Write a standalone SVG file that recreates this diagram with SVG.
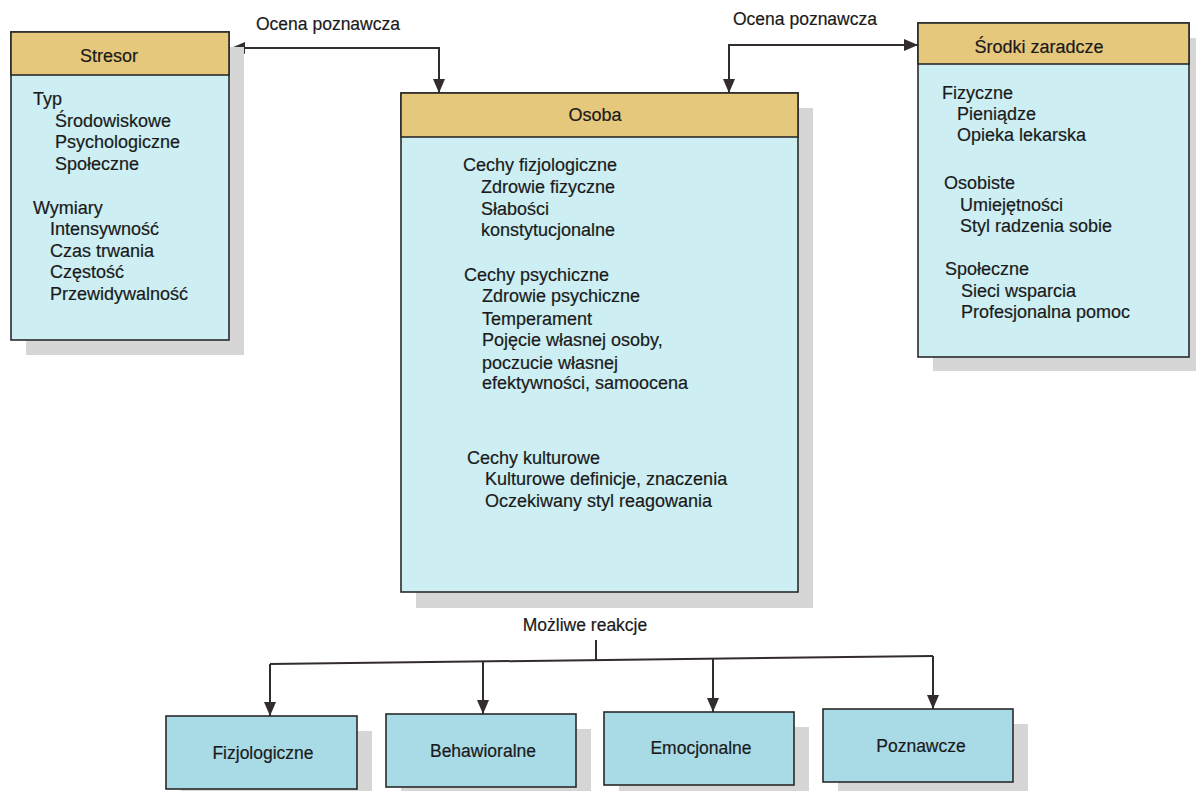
<svg xmlns="http://www.w3.org/2000/svg" width="1196" height="791" viewBox="0 0 1196 791">
<defs>
<style>
.bg{fill:#ffffff}
.shadow{fill:#d6d6d6}
.body{fill:#cdeef3;stroke:#2a2a2a;stroke-width:1.6}
.head{fill:#e6c87c;stroke:#2a2a2a;stroke-width:1.6}
.rbox{fill:#a9dbe7;stroke:#2a2a2a;stroke-width:1.6}
text{font-family:"Liberation Sans",Arial,Helvetica,sans-serif;fill:#1a1a1a;stroke:#1a1a1a;stroke-width:0.2}
.t{font-size:18px}
.h{font-size:18px;text-anchor:middle}
.lbl{font-size:17.5px;text-anchor:middle}
.r{font-size:17.5px;text-anchor:middle}
.conn{fill:none;stroke:#332c2c;stroke-width:2}
</style>
<marker id="arr" viewBox="0 0 14 12" refX="14" refY="6" markerWidth="14" markerHeight="12" markerUnits="userSpaceOnUse" orient="auto-start-reverse">
<path d="M0,0 L14,6 L0,12 z" fill="#332c2c"/>
</marker>
</defs>
<rect class="bg" x="0" y="0" width="1196" height="791"/>

<g id="connectors">
<path class="conn" d="M231,48 H439 V93" marker-start="url(#arr)" marker-end="url(#arr)"/>
<path class="conn" d="M729,93 V45 H918" marker-start="url(#arr)" marker-end="url(#arr)"/>
<path class="conn" d="M596,592 V608"/>
<path class="conn" d="M596,640 V660"/>
<path class="conn" d="M270,664 L933,656"/>
<path class="conn" d="M270,664 V716" marker-end="url(#arr)"/>
<path class="conn" d="M483,661.4 V714" marker-end="url(#arr)"/>
<path class="conn" d="M713,658.7 V712" marker-end="url(#arr)"/>
<path class="conn" d="M933,656 V709" marker-end="url(#arr)"/>
</g>

<g id="labels">
<text class="lbl" x="328" y="30">Ocena poznawcza</text>
<text class="lbl" x="805" y="25">Ocena poznawcza</text>
<text class="lbl" x="585" y="631">Możliwe reakcje</text>
</g>

<g id="stresor">
<rect class="shadow" x="26" y="47" width="218" height="308"/>
<rect class="body" x="11" y="32" width="218" height="308"/>
<rect class="head" x="11" y="32" width="218" height="43"/>
<text class="h" x="109" y="62">Stresor</text>
<text class="t" x="33" y="105">Typ</text>
<text class="t" x="55" y="127">Środowiskowe</text>
<text class="t" x="55" y="148">Psychologiczne</text>
<text class="t" x="55" y="170">Społeczne</text>
<text class="t" x="33" y="214">Wymiary</text>
<text class="t" x="50" y="235">Intensywność</text>
<text class="t" x="50" y="257">Czas trwania</text>
<text class="t" x="50" y="278">Częstość</text>
<text class="t" x="50" y="300">Przewidywalność</text>
</g>

<g id="osoba">
<rect class="shadow" x="416" y="108" width="397" height="500"/>
<rect class="body" x="401" y="93" width="397" height="499"/>
<rect class="head" x="401" y="93" width="397" height="44"/>
<text class="h" x="595" y="121">Osoba</text>
<text class="t" x="463" y="171">Cechy fizjologiczne</text>
<text class="t" x="481" y="193">Zdrowie fizyczne</text>
<text class="t" x="481" y="215">Słabości</text>
<text class="t" x="481" y="236">konstytucjonalne</text>
<text class="t" x="464" y="281">Cechy psychiczne</text>
<text class="t" x="482" y="302">Zdrowie psychiczne</text>
<text class="t" x="482" y="325">Temperament</text>
<text class="t" x="482" y="346">Pojęcie własnej osoby,</text>
<text class="t" x="482" y="369">poczucie własnej</text>
<text class="t" x="482" y="389">efektywności, samoocena</text>
<text class="t" x="467" y="464">Cechy kulturowe</text>
<text class="t" x="485" y="485">Kulturowe definicje, znaczenia</text>
<text class="t" x="485" y="507">Oczekiwany styl reagowania</text>
</g>

<g id="srodki">
<rect class="shadow" x="933" y="38" width="271" height="333"/>
<rect class="body" x="918" y="23" width="271" height="334"/>
<rect class="head" x="918" y="23" width="271" height="41"/>
<text class="h" x="1039" y="53">Środki zaradcze</text>
<text class="t" x="942" y="99">Fizyczne</text>
<text class="t" x="957" y="120">Pieniądze</text>
<text class="t" x="957" y="141">Opieka lekarska</text>
<text class="t" x="944" y="189">Osobiste</text>
<text class="t" x="960" y="211">Umiejętności</text>
<text class="t" x="960" y="232">Styl radzenia sobie</text>
<text class="t" x="945" y="275">Społeczne</text>
<text class="t" x="961" y="297">Sieci wsparcia</text>
<text class="t" x="961" y="318">Profesjonalna pomoc</text>
</g>

<g id="fizjologiczne">
<rect class="shadow" x="181" y="731" width="191" height="73"/>
<rect class="rbox" x="166" y="716" width="191" height="73"/>
<text class="r" x="263" y="759">Fizjologiczne</text>
</g>
<g id="behawioralne">
<rect class="shadow" x="401" y="729" width="190" height="73"/>
<rect class="rbox" x="386" y="714" width="190" height="73"/>
<text class="r" x="483" y="757">Behawioralne</text>
</g>
<g id="emocjonalne">
<rect class="shadow" x="619" y="727" width="190" height="73"/>
<rect class="rbox" x="604" y="712" width="190" height="73"/>
<text class="r" x="701" y="754">Emocjonalne</text>
</g>
<g id="poznawcze">
<rect class="shadow" x="838" y="724" width="190" height="73"/>
<rect class="rbox" x="823" y="709" width="190" height="73"/>
<text class="r" x="921" y="752">Poznawcze</text>
</g>
</svg>
